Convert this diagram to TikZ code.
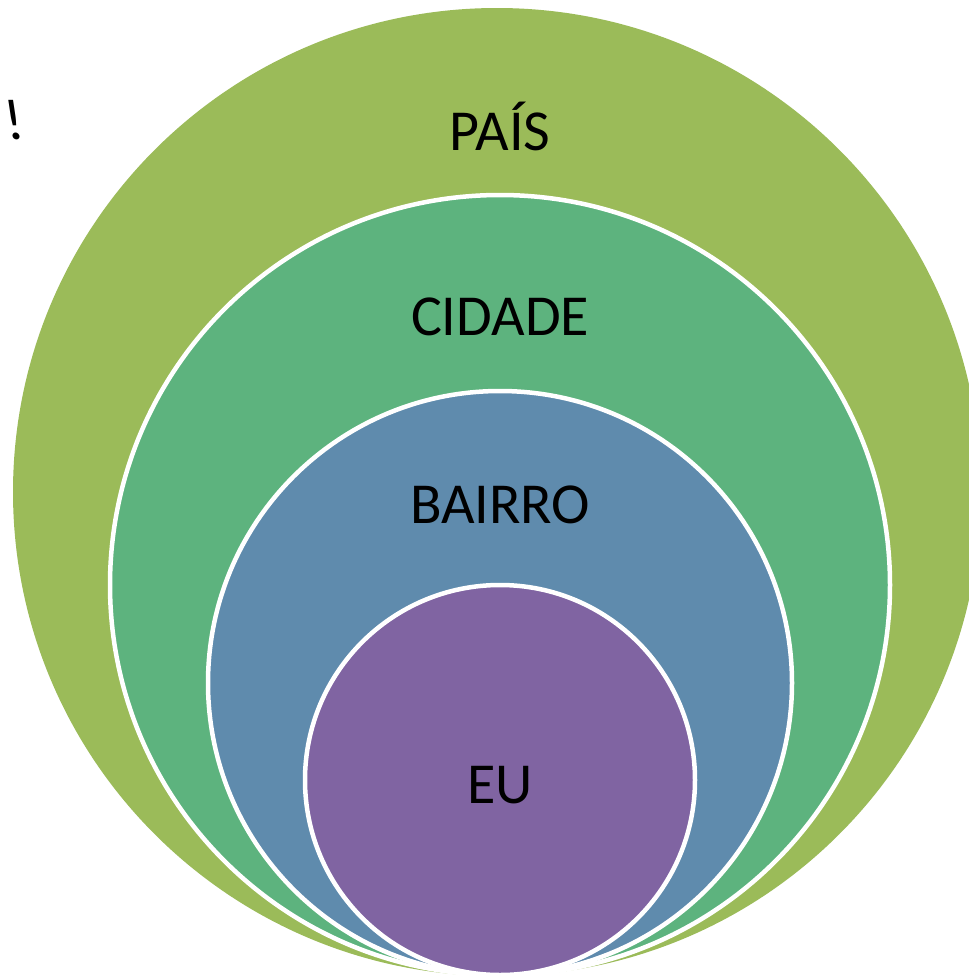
\documentclass[tikz,border=0pt]{standalone}
\usepackage{fontspec}
\setmainfont{Carlito}
\definecolor{cpais}{HTML}{9BBB59}
\definecolor{ccidade}{HTML}{5DB37E}
\definecolor{cbairro}{HTML}{5F8BAD}
\definecolor{ceu}{HTML}{8064A2}
\begin{document}
\begin{tikzpicture}[x=1pt,y=-1pt,
  ring/.style={draw=white,line width=4.5pt},
  lbl/.style={font=\fontsize{58}{62}\selectfont,text=black,inner sep=0pt}]
\useasboundingbox (0,0) rectangle (969,975);
\begin{scope}
\clip (0,0) rectangle (969,975);
\fill[cpais] (497,492) circle[radius=484];
\draw[ring,fill=ccidade] (500,585) circle[radius=390];
\draw[ring,fill=cbairro] (500,683) circle[radius=292];
\draw[ring,fill=ceu] (500,780) circle[radius=195];
\end{scope}
\node[lbl] (pais) at (500,126) {PAÍS};
\node[lbl] (cidade) at (500,317) {CIDADE};
\node[lbl] (bairro) at (500,505) {BAIRRO};
\node[lbl] (eu) at (500,785) {EU};
\node[lbl,xslant=-0.15,transform shape] (excl) at (14,120) {!};
\end{tikzpicture}
\end{document}
